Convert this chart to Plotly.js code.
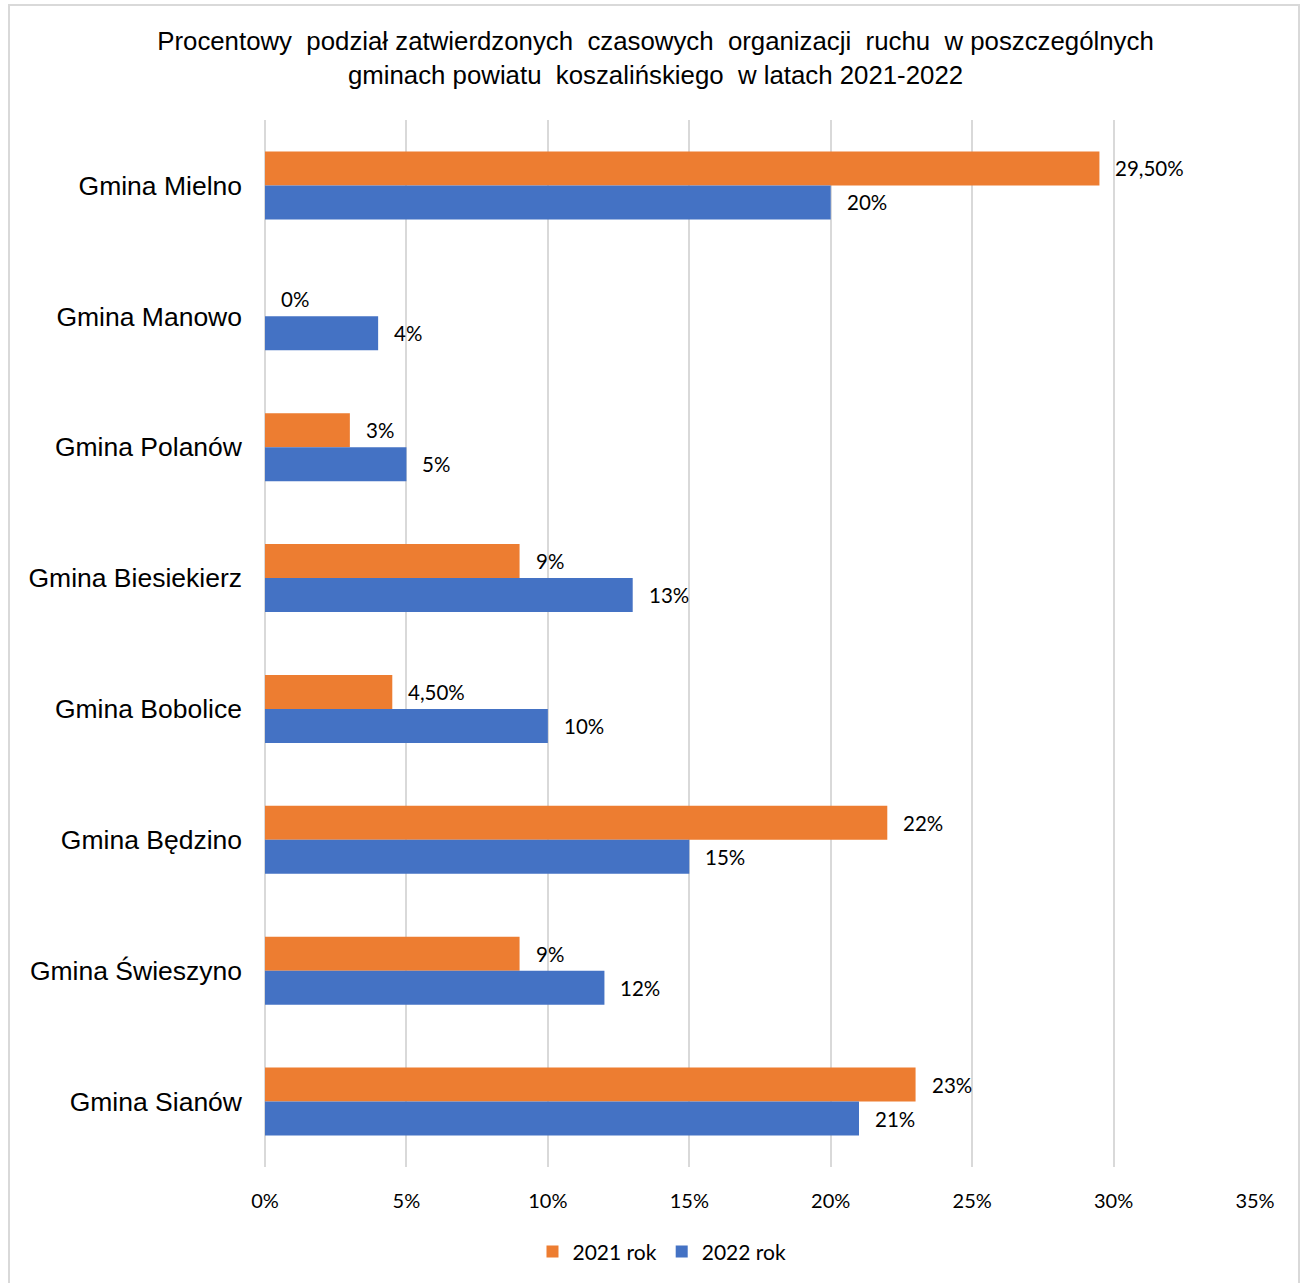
<!DOCTYPE html>
<html><head><meta charset="utf-8">
<script src="https://cdn.plot.ly/plotly-3.0.1.min.js"></script>
<style>
html,body{margin:0;padding:0;background:#fff;}
#frame{position:absolute;left:8px;top:4px;width:1292px;height:1300px;border:2px solid #d9d9d9;box-sizing:border-box;}
#chart{position:absolute;left:0;top:0;width:1311px;height:1283px;}
</style></head>
<body>
<div id="frame"></div>
<div id="chart"></div>
<script>
const categories = ["Gmina Mielno","Gmina Manowo","Gmina Polanów","Gmina Biesiekierz","Gmina Bobolice","Gmina Będzino","Gmina Świeszyno","Gmina Sianów"];
const values2021 = [29.5, 0, 3, 9, 4.5, 22, 9, 23];
const values2022 = [20, 4, 5, 13, 10, 15, 12, 21];
const labels2021 = ["29,50%","0%","3%","9%","4,50%","22%","9%","23%"];
const labels2022 = ["20%","4%","5%","13%","10%","15%","12%","21%"];
const tickVals = [0,5,10,15,20,25,30,35];
const tickText = ["0%","5%","10%","15%","20%","25%","30%","35%"];

const traces = [
  {type:"bar", orientation:"h", name:"2021 rok", y:categories, x:values2021, marker:{color:"#ED7D31"}, hoverinfo:"skip"},
  {type:"bar", orientation:"h", name:"2022 rok", y:categories, x:values2022, marker:{color:"#4472C4"}, hoverinfo:"skip"}
];

const labelFont = {family:"Lato, 'Open Sans', sans-serif", size:20.5, color:"#000"};
const annotations = [];
categories.forEach((c,i)=>{
  annotations.push({x:values2021[i], y:c, text:labels2021[i], showarrow:false, xanchor:"left", yanchor:"middle", xshift:14, yshift:17, font:labelFont});
  annotations.push({x:values2022[i], y:c, text:labels2022[i], showarrow:false, xanchor:"left", yanchor:"middle", xshift:14, yshift:-17, font:labelFont});
});

const layout = {
  width:1311, height:1283,
  paper_bgcolor:"rgba(0,0,0,0)", plot_bgcolor:"rgba(0,0,0,0)",
  margin:{l:265, r:56, t:120, b:115},
  title:{text:"Procentowy  podział zatwierdzonych  czasowych  organizacji  ruchu  w poszczególnych<br>gminach powiatu  koszalińskiego  w latach 2021-2022",
    font:{family:"'Liberation Sans', Arial, sans-serif", size:25.8, color:"#000"},
    x:0.5, xanchor:"center", y:0.961, yanchor:"middle"},
  barmode:"group", bargap:0.48, bargroupgap:0,
  xaxis:{range:[0,35], tickvals:tickVals, ticktext:tickText, showgrid:true, gridcolor:"#d9d9d9", gridwidth:2,
    zeroline:true, zerolinecolor:"#d9d9d9", zerolinewidth:2, showline:false, ticks:"", ticklabelstandoff:20,
    tickfont:{family:"Lato, 'Open Sans', sans-serif", size:20, color:"#000"}, fixedrange:true},
  yaxis:{autorange:"reversed", showgrid:false, zeroline:false, showline:false, ticks:"", ticklabelstandoff:22,
    tickfont:{family:"'Liberation Sans', Arial, sans-serif", size:26.5, color:"#000"}, fixedrange:true},
  showlegend:true,
  legend:{orientation:"h", x:0.401, xanchor:"center", y:-0.08, yanchor:"middle", traceorder:"normal",
    font:{family:"Lato, 'Open Sans', sans-serif", size:21, color:"#000"}, itemwidth:30},
  annotations:annotations
};
Plotly.newPlot("chart", traces, layout, {displayModeBar:false, staticPlot:true});
</script>
</body></html>
